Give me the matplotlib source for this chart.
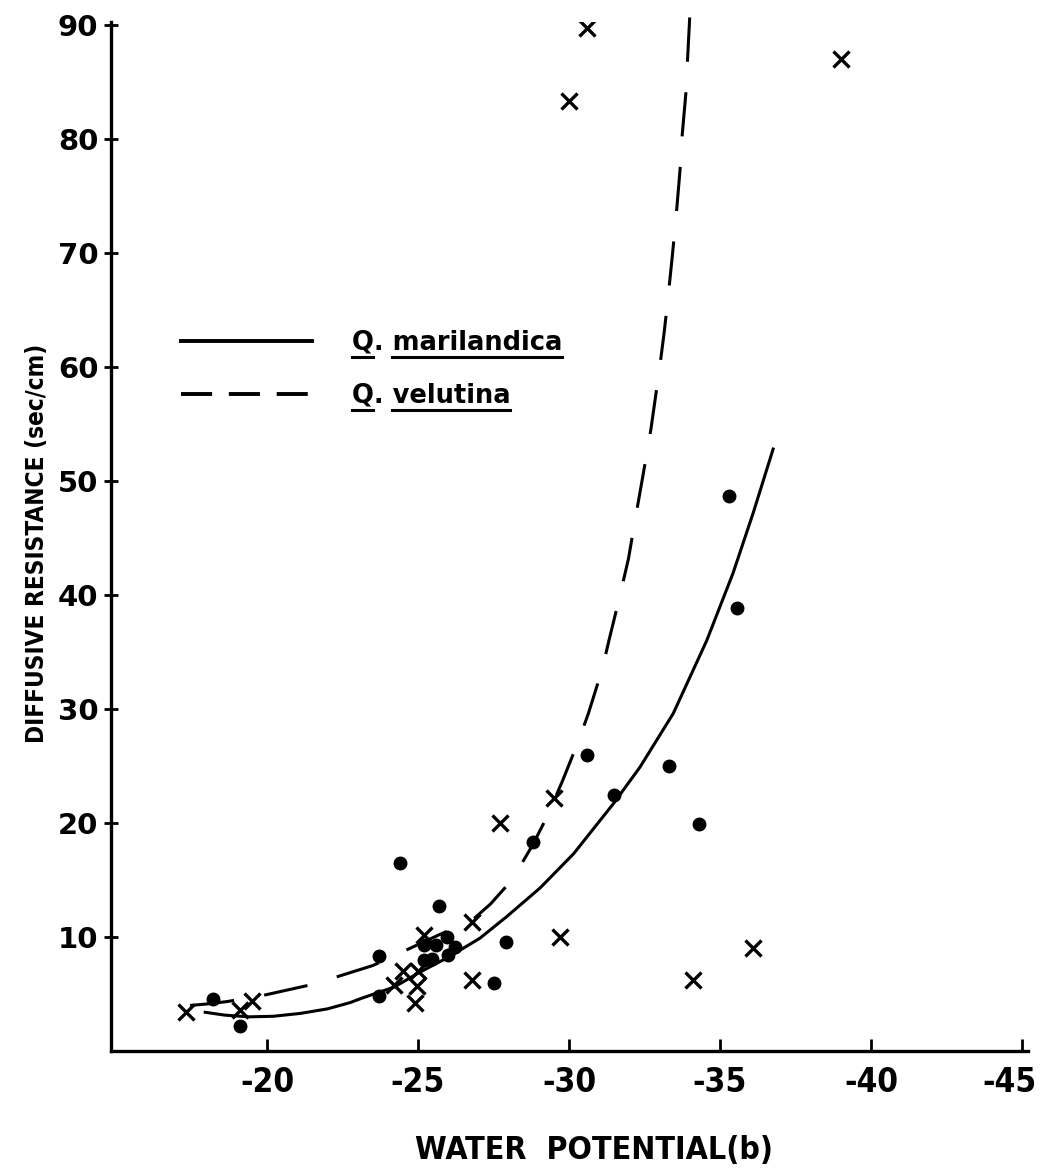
import matplotlib
matplotlib.use("Agg")
import matplotlib.pyplot as plt
from matplotlib import font_manager as fm
from matplotlib import transforms
from matplotlib.lines import Line2D

# Q. marilandica (dots) and Q. velutina (crosses): water potential (b), resistance (sec/cm)
dots_x = [-18.2, -19.1, -23.7, -23.7, -24.4, -25.2, -25.2, -25.45, -25.6, -25.7,
          -25.97, -26.0, -26.23, -27.5, -27.9, -28.8, -30.6, -31.5, -33.3, -34.3,
          -35.3, -35.55]
dots_y = [4.6, 2.2, 8.3, 4.8, 16.5, 9.3, 8.0, 8.1, 9.3, 12.7,
          10.0, 8.4, 9.1, 6.0, 9.6, 18.3, 26.0, 22.5, 25.0, 19.9,
          48.7, 38.9]

cross_x = [-17.3, -19.1, -19.5, -24.2, -24.5, -24.95, -24.9, -25.0, -25.2, -26.8,
           -26.8, -27.7, -29.5, -29.7, -34.1, -36.1, -30.6, -30.0, -39.0]
cross_y = [3.4, 3.6, 4.4, 5.8, 7.0, 5.7, 4.2, 7.0, 10.2, 11.3,
           6.2, 20.0, 22.2, 10.0, 6.2, 9.0, 89.7, 83.3, 87.0]

# fitted curves
mar_x = [-17.95, -18.6, -19.4, -20.2, -21.1, -22.0, -22.75, -23.1, -23.75, -24.2,
         -25.05, -26.05, -27.05, -27.94, -29.04, -30.15, -31.47, -32.35, -33.45, -34.56,
         -35.43, -36.1, -36.76]
mar_y = [3.4, 3.15, 3.0, 3.05, 3.3, 3.7, 4.25, 4.6, 5.2, 5.6,
         6.9, 8.3, 9.9, 11.8, 14.3, 17.3, 21.7, 24.9, 29.6, 36.0,
         41.9, 47.2, 52.8]

vel_x = [-17.45, -18.1, -18.7, -19.9, -21.6, -22.3, -23.5, -24.4, -25.7, -26.8,
         -27.4, -27.94, -28.38, -28.8, -29.3, -29.8, -30.3, -30.64, -31.1, -31.33,
         -31.66, -31.97, -32.23, -32.45, -32.71, -33.0, -33.15, -33.26, -33.42, -33.56,
         -33.68, -33.75, -33.87, -33.93, -34.0]
vel_y = [4.0, 4.15, 4.35, 4.9, 5.9, 6.5, 7.5, 8.6, 10.2, 11.5,
         12.9, 14.5, 16.2, 18.1, 20.7, 23.8, 27.1, 29.6, 33.5, 36.1,
         39.65, 43.2, 47.2, 50.5, 54.5, 59.9, 63.0, 65.6, 69.7, 73.6,
         77.4, 80.4, 84.0, 87.2, 90.8]

x_ticks = [-20, -25, -30, -35, -40, -45]
x_ticklabels = ["-20", "-25", "-30", "-35", "-40", "-45"]
y_ticks = [10, 20, 30, 40, 50, 60, 70, 80, 90]


def narrow_font():
    # a condensed bold face if one is installed
    files = [f.fname for f in fm.fontManager.ttflist]
    for key in ["LiberationSansNarrow-Bold.", "DejaVuSansCondensed-Bold.",
                "RobotoCondensed-Bold.", "OpenSans_Condensed-Bold.",
                "OpenSansCondensed-Bold."]:
        for f in files:
            if key in f.replace(" ", ""):
                return f, True
    return None, False


nfile, found = narrow_font()


def nprop(size):
    if found:
        return fm.FontProperties(fname=nfile, size=size)
    return fm.FontProperties(family="DejaVu Sans", weight="bold", size=size * 0.8)


fig = plt.figure(figsize=(10.45, 11.69), dpi=100)
ax = fig.add_axes([0.1062, 0.1009, 0.8775, 0.8803])

ax.plot(mar_x, mar_y, color="black", lw=2.2, label="Q. marilandica")
ax.plot(vel_x, vel_y, color="black", lw=2.2, dashes=(14.5, 10), clip_on=False,
        label="Q. velutina")
ax.plot(dots_x, dots_y, "o", color="black", ms=9, ls="none")
ax.plot(cross_x, cross_y, "x", color="black", ms=11, mew=2.4, ls="none")

ax.set_xlim(-14.83, -45.2)
ax.set_ylim(0, 90.26)
ax.set_xticks(x_ticks)
ax.set_xticklabels(x_ticklabels, fontproperties=nprop(24))
ax.set_yticks(y_ticks)
ax.set_yticklabels([str(v) for v in y_ticks], fontsize=21, fontweight="bold")
ax.tick_params(axis="y", direction="inout", length=10, width=2, pad=4)
ax.tick_params(axis="x", direction="in", length=8.5, width=2, pad=11)

# the last x label sits a little left of its tick, as in the original
last = ax.get_xticklabels()[-1]
last.set_transform(last.get_transform() +
                   transforms.ScaledTranslation(-12 / 100, 0, fig.dpi_scale_trans))

for s in ["top", "right"]:
    ax.spines[s].set_visible(False)
for s in ["left", "bottom"]:
    ax.spines[s].set_linewidth(2.4)

fig.text(0.035, 0.535, "DIFFUSIVE RESISTANCE (sec/cm)", rotation=90,
         ha="center", va="center", fontproperties=nprop(17.5))
fig.text(0.568, 0.016, "WATER  POTENTIAL(b)", ha="center", va="center",
         fontproperties=nprop(23))

leg = ax.legend(loc="upper left", bbox_to_anchor=(0.076, 0.701), frameon=False,
                prop={"size": 18.5, "weight": "bold"}, handlelength=5.1,
                handletextpad=1.55, labelspacing=1.05, borderpad=0, borderaxespad=0)
hl = leg.get_lines()
hl[0].set_linewidth(2.8)
hl[1].set_linewidth(2.8)
hl[1].set_dashes((8, 4.3))

# underline the species names
fig.canvas.draw()
r = fig.canvas.get_renderer()
for t in leg.get_texts():
    bb = t.get_window_extent(r)
    prop = t.get_fontproperties()
    wq = r.get_text_width_height_descent("Q", prop, ismath=False)[0]
    wp = r.get_text_width_height_descent("Q. ", prop, ismath=False)[0]
    y = bb.y0 - 1
    for a, b in [(bb.x0, bb.x0 + wq), (bb.x0 + wp, bb.x1)]:
        fig.add_artist(Line2D([a, b], [y, y], color="black", lw=2.2,
                              transform=None))

fig.savefig("out.png", dpi=100)
